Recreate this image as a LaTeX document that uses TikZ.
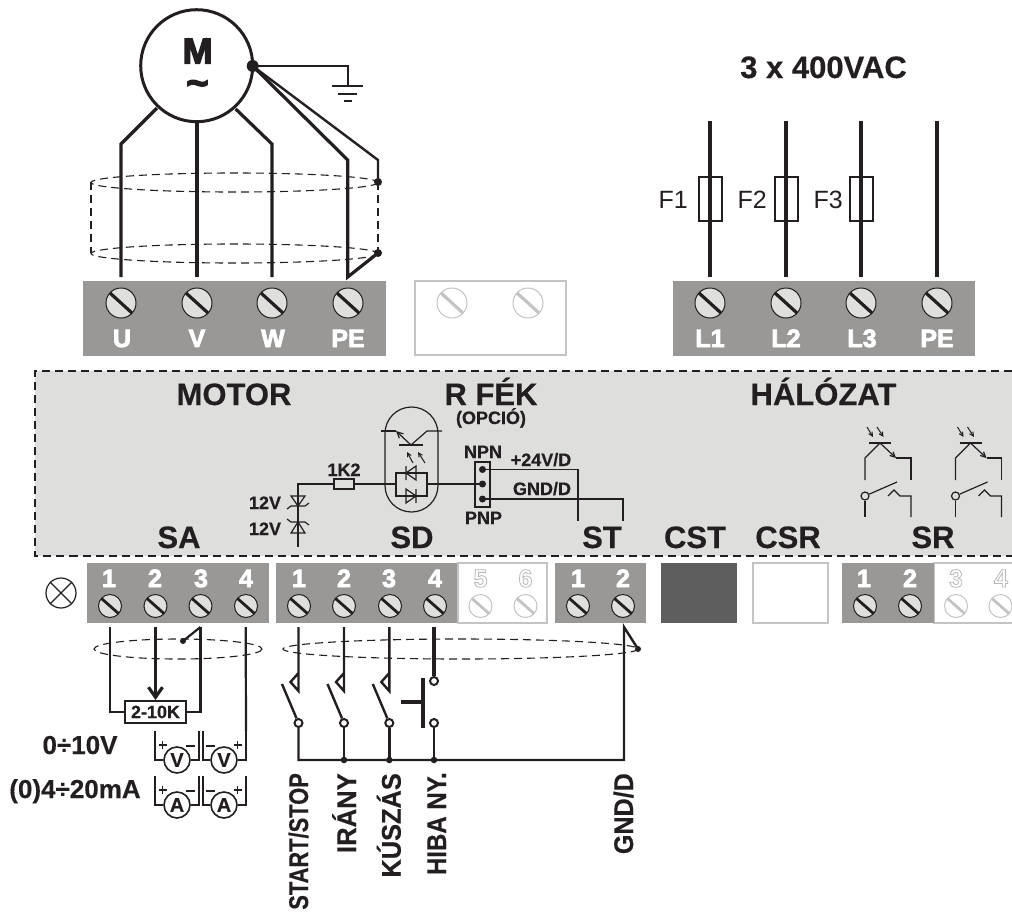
\documentclass[tikz,border=0pt]{standalone}
\usepackage{fontspec}
\setmainfont[BoldFeatures={FakeBold=0.35}]{Liberation Sans}
\newfontfamily\outf{Liberation Sans}
\usetikzlibrary{arrows.meta}
\definecolor{ink}{HTML}{231F20}
\definecolor{termgrey}{HTML}{999896}
\definecolor{bandgrey}{HTML}{DEDEDD}
\definecolor{screwgrey}{HTML}{DFDFDD}
\definecolor{pale}{HTML}{C4C4C4}
\newcommand\fs[1]{\fontsize{#1}{#1}\selectfont}
\newcommand\outl[1]{\special{pdf:code 1 Tr 0.8 w 0.72 G}#1\special{pdf:code 0 Tr 1 w}}
\newcommand\wht[1]{\special{pdf:code 2 Tr 0.8 w 1 G}#1\special{pdf:code 0 Tr 1 w}}
\newcommand\hvy[1]{\special{pdf:code 2 Tr 1.4 w 0.137 0.122 0.125 RG}#1\special{pdf:code 0 Tr 1 w}}
\tikzset{
  wire/.style={draw=ink,line width=3.2pt},
  midw/.style={draw=ink,line width=2pt},
  thin/.style={draw=ink,line width=1.2pt},
  cable/.style={draw=ink,line width=1.1pt,dash pattern=on 8pt off 5pt},
  lbl/.style={anchor=base,inner sep=0pt,text=ink,font=\bfseries},
  vlbl/.style={anchor=base east,rotate=90,inner sep=0pt,text=ink,font=\bfseries\fs{27}},
  tlbl/.style={anchor=base,inner sep=0pt,text=white,font=\outf\bfseries\fs{25}},
  dot/.style={circle,fill=ink,inner sep=0pt,minimum size=#1},
  contact/.style={circle,draw=ink,fill=white,line width=2pt,inner sep=0pt,minimum size=8pt},
  meter/.style={circle,draw=ink,fill=white,line width=1.6pt,inner sep=0pt,minimum size=26pt,text=ink,font=\bfseries\fs{20}},
  screwA/.style={circle,draw=ink,fill=screwgrey,line width=1pt,inner sep=0pt,minimum size=30pt},
  screwB/.style={circle,draw=ink,fill=screwgrey,line width=1pt,inner sep=0pt,minimum size=23pt},
  screwC/.style={circle,draw=pale,fill=white,line width=1pt,inner sep=0pt,minimum size=#1},
}
\begin{document}
\begin{tikzpicture}[x=1pt,y=-1pt]
\useasboundingbox (0,0) rectangle (1012,911);
% control band
\fill[bandgrey] (35,371) rectangle (1012,555.5);
\draw[draw=ink,line width=2pt,dash pattern=on 8pt off 5pt] (1012,371) -- (35,371) -- (35,555.5) -- (1012,555.5);
% terminal blocks
\fill[termgrey] (83,281) rectangle (386,356);
\fill[termgrey] (673,281) rectangle (975,356);
\draw[draw=pale,line width=1.2pt,fill=white] (415,281) rectangle (566,355);
\fill[termgrey] (87,563) rectangle (269,623);
\fill[termgrey] (276,563) rectangle (458,623);
\draw[draw=pale,line width=1.2pt,fill=white] (458,563) rectangle (547,623);
\fill[termgrey] (555,563) rectangle (646,623);
\fill[fill=black!63!white] (661,563) rectangle (737,623);
\draw[draw=pale,line width=1.2pt,fill=white] (753,563) rectangle (828,623);
\draw[draw=pale,line width=1.2pt,fill=white] (1014,563) -- (934,563) -- (934,623) -- (1014,623);
\fill[termgrey] (842,563) rectangle (934,623);
% large screws
\foreach \n/\x in {u/121,v/197,w/272,pe/348,la/710,lb/786,lc/861,ld/937}{
  \node[screwA] (s\n) at (\x,303) {};
  \draw[draw=ink,line width=3.2pt] (\x-11,303-10) -- (\x+11,303+10);
}
\foreach \n/\x in {ra/452,rb/528}{
  \node[screwC=30pt] (s\n) at (\x,303) {};
  \draw[draw=pale,line width=3.2pt] (\x-11,303-10) -- (\x+11,303+10);
}
% small screws
\foreach \n/\x in {aa/110,ab/155.5,ac/200.5,ad/246,da/299,db/344,dc/390,dd/435,ta/578,tb/623,ra/865,rb/910}{
  \node[screwB] (t\n) at (\x,606) {};
  \draw[draw=ink,line width=2.8pt] (\x-8.5,606-7.5) -- (\x+8.5,606+7.5);
}
\foreach \n/\x in {de/480.5,df/525.5,rc/956,rd/1000.5}{
  \node[screwC=23pt] (t\n) at (\x,606) {};
  \draw[draw=pale,line width=2.8pt] (\x-8.5,606-7.5) -- (\x+8.5,606+7.5);
}
% terminal labels
\foreach \t/\x in {U/122,V/197,W/273,PE/348,L1/710,L2/786,L3/862,PE/937}{
  \node[tlbl] at (\x,347) {\wht{\t}};
}
\foreach \t/\x in {1/109,2/155,3/201,4/246,1/299,2/344,3/389,4/435,1/578,2/623,1/864,2/910}{
  \node[tlbl] at (\x,587) {\wht{\t}};
}
\foreach \t/\x in {5/480.5,6/525.5,3/956,4/1001}{
  \node[anchor=base,inner sep=0pt,font=\outf\bfseries\fs{25}] at (\x,587) {\outl{\t}};
}
% motor
\node[circle,draw=ink,line width=3pt,inner sep=0pt,minimum size=112pt] (motor) at (196.7,65.7) {};
\node[lbl,font=\outf\bfseries\fs{36}] (mM) at (197.7,63.5) {\hvy{M}};
\node[inner sep=0pt,text=ink,font=\outf\bfseries\fs{38}] (mT) at (197.5,88) {\hvy{\textasciitilde}};
\node[dot=12pt] (mdot) at (252.7,66) {};
\coordinate (gnd) at (347.7,86);
\draw[midw] (mdot.center) -| (gnd);
\draw[midw,line width=2.4pt] (332,86) -- (363,86);
\draw[midw,line width=2.4pt] (338,94) -- (357,94);
\draw[midw,line width=2.4pt] (344,101) -- (352,101);
% motor wires
\coordinate (mu) at (157,108); \coordinate (mw) at (235.7,109);
\coordinate (eu) at (121,277); \coordinate (ev) at (197,277); \coordinate (ew) at (272,277); \coordinate (epe) at (347.7,277);
\draw[wire] (mu) -- (121,144) -- (eu);
\draw[wire] (197,123) -- (ev);
\draw[wire] (mw) -- (272,144) -- (ew);
% shield
\draw[cable] (234.5,182.5) ellipse [x radius=143.5,y radius=9.5];
\draw[cable] (234.5,253.5) ellipse [x radius=143.5,y radius=9.5];
\draw[cable,line width=1.6pt] (91,182) -- (91,253);
\draw[cable,line width=1.6pt] (378,182) -- (378,253);
\node[dot=8pt] (sh1) at (378,182) {};
\node[dot=8pt] (sh2) at (378,253) {};
\draw[wire,line join=miter] (mdot.center) -- (347.7,160) -- (epe) -- (sh2.center);
\draw[midw,line width=2.4pt] (mdot.center) -- (378,160) -- (sh1.center);
% mains
\foreach \x in {710,786,861,937}{ \draw[wire] (\x,121) -- (\x,277); }
\foreach \n/\x in {fa/710,fb/786,fc/861}{
  \node[draw=ink,line width=2.4pt,inner sep=0pt,minimum width=23pt,minimum height=44pt] (\n) at (\x.5,199) {};
}
\node[anchor=base east,inner sep=0pt,text=ink,font=\fs{25}] (fla) at (688,208) {F1};
\node[anchor=base east,inner sep=0pt,text=ink,font=\fs{25}] (flb) at (767,208) {F2};
\node[anchor=base east,inner sep=0pt,text=ink,font=\fs{25}] (flc) at (843,208) {F3};
\node[lbl,font=\bfseries\fs{31}] (net) at (823.5,78) {3 x 400VAC};
% band headings
\foreach \t/\x in {MOTOR/234,R FÉK/491,HÁLÓZAT/823.5}{
  \node[lbl,font=\bfseries\fs{31}] at (\x,405) {\t};
}
\foreach \t/\x in {SA/179,SD/412,ST/602,CST/695,CSR/788,SR/933}{
  \node[lbl,font=\bfseries\fs{31}] at (\x,548) {\t};
}
\node[lbl,font=\bfseries\fs{18}] (opc) at (491,424) {(OPCIÓ)};
\node[lbl,font=\bfseries\fs{18}] (npn) at (483,458) {NPN};
\node[lbl,font=\bfseries\fs{18}] (pnp) at (483.5,524) {PNP};
\node[lbl,font=\bfseries\fs{18}] (p24) at (541,466) {+24V/D};
\node[lbl,font=\bfseries\fs{18}] (g24) at (542,495) {GND/D};
\node[lbl,font=\bfseries\fs{18}] (r12) at (344,476) {1K2};
\node[lbl,font=\bfseries\fs{18}] (z1) at (265,509) {12V};
\node[lbl,font=\bfseries\fs{18}] (z2) at (265,535) {12V};
% optocoupler
\draw[thin] (385,433.5) arc[start angle=180,end angle=360,radius=26.5] -- (438,485.5) arc[start angle=0,end angle=180,radius=26.5] -- cycle;
\draw[thin] (381,431) -- (396,431);
\draw[thin,-{Straight Barb[length=6pt,width=6pt]}] (411,445) -- (396,431);
\draw[thin] (411,445) -- (427,431) -- (442,431);
\draw[thin,line width=1.5pt] (399,445) -- (423,445);
\draw[thin,line width=1pt,-{Straight Barb[length=4pt,width=4pt]}] (413,463) -- (407,452);
\draw[thin,line width=1pt,-{Straight Barb[length=4pt,width=4pt]}] (425,463) -- (418,452);
\draw[thin] (396,473) rectangle (427,496);
\draw[thin] (406,466) -- (406,480) (416,466) -- (406,473) -- (416,480) -- cycle;
\draw[thin] (416,489) -- (416,503) (406,489) -- (416,496) -- (406,503) -- cycle;
% resistor + zeners
\node[draw=ink,line width=1.2pt,inner sep=0pt,minimum width=20pt,minimum height=10pt] (r1k) at (344,484) {};
\coordinate (zt) at (298,547);
\draw[thin] (zt) -- (298,484) -- (r1k);
\draw[thin] (r1k) -- (396,484);
\draw[thin] (291,496) -- (305,496) -- (298,506) -- cycle;
\draw[thin] (287,509) -- (291,506) -- (305,506) -- (309,503);
\draw[thin] (291,533) -- (305,533) -- (298,522) -- cycle;
\draw[thin] (287,519) -- (291,522) -- (305,522) -- (309,525);
% NPN/PNP jumper
\node[draw=ink,line width=1.2pt,inner sep=0pt,minimum width=15pt,minimum height=45pt] (jump) at (482.5,484.5) {};
\node[dot=7pt] (ja) at (482.5,469.5) {};
\node[dot=7pt] (jb) at (482.5,484) {};
\node[dot=7pt] (jc) at (482.5,499) {};
\coordinate (st1) at (578,521); \coordinate (st2) at (623,521);
\draw[thin] (427,484) -- (jb.center);
\draw[thin] (ja.center) -| (st1);
\draw[thin] (jc.center) -| (st2);
% SR optos/relays
\foreach \o/\n in {0/a,90.5/b}{
 \begin{scope}[xshift=\o pt]
  \draw[thin,line width=1.5pt] (869,443) -- (891,443);
  \draw[thin] (880,443) -- (865,458) -- (865,480);
  \draw[thin,-{Straight Barb[length=5pt,width=5pt]}] (880,443) -- (896,458);
  \draw[thin] (896,458) -- (911,458) -- (911,480);
  \draw[thin,line width=1pt,-{Straight Barb[length=4pt,width=4pt]}] (867,427) -- (873,437);
  \draw[thin,line width=1pt,-{Straight Barb[length=4pt,width=4pt]}] (877,427) -- (883.5,437);
  \node[circle,draw=ink,line width=1.2pt,inner sep=0pt,minimum size=8pt] (rel\n) at (865,496) {};
  \draw[thin] (rel\n) -- (897,482);
  \draw[thin] (rel\n) -- (865,517);
  \draw[thin] (888,496) -- (894,490) -- (900,496) -- (911,496) -- (911,517);
 \end{scope}
}
% lamp
\node[circle,draw=ink,line width=1.2pt,inner sep=0pt,minimum size=30pt] (lamp) at (61,593) {};
\draw[thin] (lamp.north west) -- (lamp.south east) (lamp.north east) -- (lamp.south west);
% SA cable and wiring
\draw[cable] (178,649) ellipse [x radius=84,y radius=10];
\coordinate (a1) at (110,627); \coordinate (a2) at (155.5,627); \coordinate (a3) at (200.5,627); \coordinate (a4) at (245.7,627);
\node[dot=6pt] (adot) at (183,641) {};
\node[draw=ink,fill=white,line width=2pt,inner sep=0pt,minimum width=61pt,minimum height=22pt,text=ink,font=\bfseries\fs{18}] (pot) at (155.5,712) {2-10K};
\draw[midw,line width=2.2pt] (a1) |- (pot.west);
\draw[midw,line width=2.2pt] (a3) |- (pot.east);
\draw[midw,line width=2.2pt] (a3) -- (adot.center);
\draw[wire,-{Straight Barb[length=10pt,width=14pt]}] (a2) -- (pot.north);
\foreach \y/\tt/\n in {760/V/v,805/A/m}{
  \node[meter] (\n a) at (177,\y) {\tt};
  \node[meter] (\n b) at (224,\y) {\tt};
  \draw[midw,line width=2pt] (155,\y-29) |- (\n a);
  \draw[midw,line width=2pt] (198.5,\y-29) |- (\n a);
  \draw[midw,line width=2pt] (202.5,\y-29) |- (\n b);
  \draw[midw,line width=2pt] (246,\y-29) |- (\n b);
  \draw[thin,line width=1.4pt] (158.7,\y-15) -- (166.7,\y-15) (162.7,\y-19) -- (162.7,\y-11);
  \draw[thin,line width=1.4pt] (233.7,\y-15) -- (241.7,\y-15) (237.7,\y-19) -- (237.7,\y-11);
  \draw[midw,line width=2pt] (186,\y-14.5) -- (195,\y-14.5);
  \draw[midw,line width=2pt] (206,\y-14.5) -- (215,\y-14.5);
}
\draw[midw,line width=2.2pt] (a4) -- (246,731);
\node[lbl,font=\bfseries\fs{26}] (l010) at (80,754) {0÷10V};
\node[lbl,font=\bfseries\fs{26}] (l420) at (75,798) {(0)4÷20mA};
% SD cable
\draw[cable] (460.5,649) ellipse [x radius=177.5,y radius=10];
\foreach \n/\x in {a/298.5,b/344,c/389.3}{
  \coordinate (d\n) at (\x,627);
  \node[contact] (c\n) at (\x,723) {};
  \draw[midw,line width=2.4pt] (d\n) -- (\x,673) -- (\x-8,682) -- (\x,691) -- (\x,673);
  \draw[midw,line width=2.4pt] (\x-16.5,684) -- (c\n);
}
\coordinate (dd) at (434,627);
\node[contact] (cd) at (434,681) {};
\node[contact] (ce) at (434,723) {};
\draw[wire] (dd) -- (cd);
\draw[wire] (423,678) -- (423,728);
\draw[wire] (401,702) -- (423,702);
% bus
\coordinate (bb) at (344,760); \coordinate (bc) at (389.3,760); \coordinate (bd) at (434,760);
\coordinate (be) at (624,627);
\node[dot=6pt] (gdot) at (638,649) {};
\draw[midw,line width=2.4pt] (ca) |- (bb) -- (bc) -- (bd) -| (be) -- (gdot.center);
\draw[midw,line width=2.4pt] (cb) -- (bb);
\draw[midw,line width=2.4pt] (cc) -- (bc);
\draw[midw,line width=2.4pt] (ce) -- (bd);
\node[dot=6.5pt] at (bb) {};
\node[dot=6.5pt] at (bc) {};
\node[dot=6.5pt] at (bd) {};
% vertical labels
\node[vlbl] (vs) at (308,773) {\scalebox{.81}[1]{START/STOP}};
\node[vlbl] (vi) at (356,773) {\scalebox{.95}[1]{IRÁNY}};
\node[vlbl] (vk) at (400.7,773) {\scalebox{.94}[1]{KÚSZÁS}};
\node[vlbl] (vh) at (446,772) {\scalebox{.89}[1]{HIBA NY.}};
\node[vlbl] (vg) at (633,773) {\scalebox{.93}[1]{GND/D}};
\end{tikzpicture}
\end{document}
